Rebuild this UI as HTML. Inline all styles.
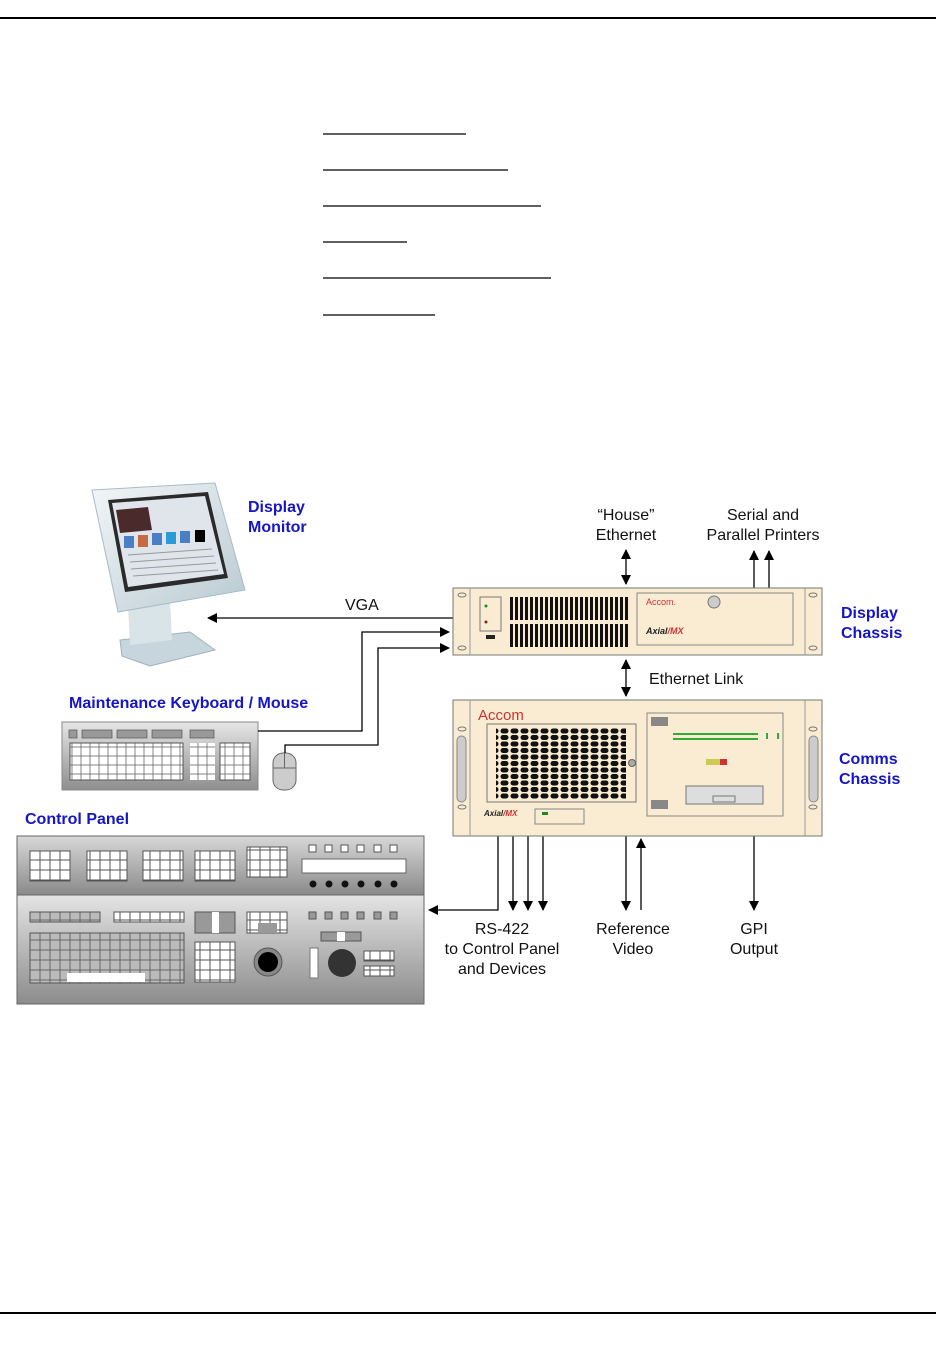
<!DOCTYPE html>
<html><head><meta charset="utf-8"><style>
html,body{margin:0;padding:0;background:#fff}
svg{display:block}
text{font-family:"Liberation Sans",Arial,sans-serif}
.b{fill:#1515c8;font-weight:bold;font-size:16px}
.l{fill:#111;font-size:16px}
</style></head><body>
<svg width="936" height="1350" viewBox="0 0 936 1350" xmlns="http://www.w3.org/2000/svg">
<defs>
<marker id="a" markerWidth="10" markerHeight="10" refX="9" refY="5" orient="auto" markerUnits="userSpaceOnUse"><path d="M0,0 L10,5 L0,10 z" fill="#000"/></marker>
<marker id="s" markerWidth="10" markerHeight="10" refX="1" refY="5" orient="auto" markerUnits="userSpaceOnUse"><path d="M10,0 L0,5 L10,10 z" fill="#000"/></marker>
<linearGradient id="cp1" x1="0" y1="0" x2="0" y2="1"><stop offset="0" stop-color="#d8d8d8"/><stop offset="1" stop-color="#8a8a8a"/></linearGradient>
<linearGradient id="cp2" x1="0" y1="0" x2="0" y2="1"><stop offset="0" stop-color="#e4e4e4"/><stop offset="1" stop-color="#8c8c8c"/></linearGradient>
<linearGradient id="kb" x1="0" y1="0" x2="0" y2="1"><stop offset="0" stop-color="#e6e6e6"/><stop offset="1" stop-color="#8e8e8e"/></linearGradient>
<linearGradient id="mon" x1="0" y1="0" x2="1" y2="1"><stop offset="0" stop-color="#f2f6f8"/><stop offset="1" stop-color="#b9cad2"/></linearGradient>
<pattern id="grid" width="10" height="10" patternUnits="userSpaceOnUse"><rect width="10" height="10" fill="#fff" stroke="#555" stroke-width="1"/></pattern>
<pattern id="key" width="9" height="9" patternUnits="userSpaceOnUse"><rect width="9" height="9" fill="#fff" stroke="#666" stroke-width="0.8"/></pattern>
<pattern id="gkey" width="10" height="10" patternUnits="userSpaceOnUse"><rect width="10" height="10" fill="#bbb" stroke="#555" stroke-width="0.8"/></pattern>
<pattern id="vent" width="5" height="10" patternUnits="userSpaceOnUse"><rect x="0" width="3" height="10" fill="#111"/></pattern>
<pattern id="fan" width="10" height="6.5" patternUnits="userSpaceOnUse"><rect x="0.5" y="0.5" width="8" height="5" rx="2.5" fill="#111"/></pattern>
</defs>
<line x1="0" y1="18" x2="936" y2="18" stroke="#000" stroke-width="2"/>
<line x1="0" y1="1313" x2="936" y2="1313" stroke="#000" stroke-width="2"/>
<g stroke="#000" stroke-width="1.2">
<line x1="323" y1="134" x2="466" y2="134"/><line x1="323" y1="170" x2="508" y2="170"/>
<line x1="323" y1="206" x2="541" y2="206"/><line x1="323" y1="242" x2="407" y2="242"/>
<line x1="323" y1="278" x2="551" y2="278"/><line x1="323" y1="315" x2="435" y2="315"/>
</g>

<!-- Monitor -->
<polygon points="120,640 190,632 215,650 150,666 122,656" fill="#c7d5dc" stroke="#9fb2bb"/>
<polygon points="128,605 170,600 172,640 130,645" fill="#d9e4e9"/>
<polygon points="92,490 215,483 245,590 118,612" fill="url(#mon)" stroke="#a8bcc6"/>
<polygon points="108,500 208,492 228,578 125,592" fill="#2a2a2a"/>
<polygon points="112,503 205,496 224,574 128,587" fill="#dfe5ea"/>
<polygon points="116,510 148,507 152,530 120,533" fill="#4a2a2a"/>
<g fill="#4a7fc8"><rect x="124" y="536" width="10" height="12"/><rect x="138" y="535" width="10" height="12" fill="#c86a40"/><rect x="152" y="533" width="10" height="12"/><rect x="166" y="532" width="10" height="12" fill="#2a9ad8"/><rect x="180" y="531" width="10" height="12"/><rect x="195" y="530" width="10" height="12" fill="#000"/></g>
<g stroke="#999" stroke-width="1"><line x1="128" y1="555" x2="212" y2="549"/><line x1="130" y1="562" x2="214" y2="556"/><line x1="131" y1="569" x2="216" y2="563"/><line x1="133" y1="576" x2="218" y2="570"/></g>

<text class="b" x="248" y="512">Display</text><text class="b" x="248" y="532">Monitor</text>

<!-- Keyboard -->
<text class="b" x="69" y="708">Maintenance Keyboard / Mouse</text>
<rect x="62" y="722" width="196" height="68" fill="url(#kb)" stroke="#888"/>
<g fill="#999" stroke="#555" stroke-width="0.7"><rect x="69" y="730" width="8" height="8"/><rect x="82" y="730" width="30" height="8"/><rect x="117" y="730" width="30" height="8"/><rect x="152" y="730" width="30" height="8"/><rect x="190" y="730" width="24" height="8"/></g>
<rect x="70" y="743" width="113" height="37" fill="url(#key)" stroke="#555"/>
<rect x="190" y="743" width="25" height="37" fill="url(#key)"/>
<rect x="220" y="743" width="30" height="37" fill="url(#key)" stroke="#555"/>
<!-- Mouse -->
<rect x="273" y="753" width="23" height="37" rx="10" fill="#ccc" stroke="#666"/>
<line x1="284.5" y1="753" x2="284.5" y2="768" stroke="#666"/><line x1="273" y1="768" x2="296" y2="768" stroke="#666"/>

<!-- connectors -->
<g fill="none" stroke="#000" stroke-width="1.3">
<line x1="453" y1="618" x2="208" y2="618" marker-end="url(#a)"/>
<polyline points="258,731 362,731 362,632 449,632" marker-end="url(#a)"/>
<polyline points="285,753 285,745 378,745 378,648 449,648" marker-end="url(#a)"/>
<line x1="626" y1="550" x2="626" y2="584" marker-start="url(#s)" marker-end="url(#a)"/>
<line x1="754" y1="588" x2="754" y2="551" marker-end="url(#a)"/>
<line x1="769" y1="588" x2="769" y2="551" marker-end="url(#a)"/>
<line x1="626" y1="660" x2="626" y2="696" marker-start="url(#s)" marker-end="url(#a)"/>
<polyline points="498,836 498,910 429,910" marker-end="url(#a)"/>
<line x1="513" y1="836" x2="513" y2="910" marker-end="url(#a)"/>
<line x1="528" y1="836" x2="528" y2="910" marker-end="url(#a)"/>
<line x1="543" y1="836" x2="543" y2="910" marker-end="url(#a)"/>
<line x1="626" y1="836" x2="626" y2="910" marker-end="url(#a)"/>
<line x1="641" y1="910" x2="641" y2="839" marker-end="url(#a)"/>
<line x1="754" y1="836" x2="754" y2="910" marker-end="url(#a)"/>
</g>
<text class="l" x="345" y="610">VGA</text>
<text class="l" x="626" y="520" text-anchor="middle">“House”</text>
<text class="l" x="626" y="540" text-anchor="middle">Ethernet</text>
<text class="l" x="763" y="520" text-anchor="middle">Serial and</text>
<text class="l" x="763" y="540" text-anchor="middle">Parallel Printers</text>
<text class="l" x="649" y="684">Ethernet Link</text>
<text class="l" x="502" y="934" text-anchor="middle">RS-422</text>
<text class="l" x="502" y="954" text-anchor="middle">to Control Panel</text>
<text class="l" x="502" y="974" text-anchor="middle">and Devices</text>
<text class="l" x="633" y="934" text-anchor="middle">Reference</text>
<text class="l" x="633" y="954" text-anchor="middle">Video</text>
<text class="l" x="754" y="934" text-anchor="middle">GPI</text>
<text class="l" x="754" y="954" text-anchor="middle">Output</text>

<!-- Display chassis -->
<rect x="453" y="588" width="369" height="67" fill="#f9ecd2" stroke="#777"/>
<line x1="470" y1="588" x2="470" y2="655" stroke="#999"/><line x1="805" y1="588" x2="805" y2="655" stroke="#999"/>
<g fill="none" stroke="#777"><ellipse cx="462" cy="595" rx="4" ry="2"/><ellipse cx="462" cy="648" rx="4" ry="2"/><ellipse cx="813" cy="595" rx="4" ry="2"/><ellipse cx="813" cy="648" rx="4" ry="2"/></g>
<rect x="480" y="597" width="21" height="34" fill="#f9ecd2" stroke="#777"/>
<circle cx="486" cy="606" r="1.5" fill="#282"/><circle cx="486" cy="622" r="1.5" fill="#822"/>
<rect x="486" y="635" width="9" height="4" fill="#222"/>
<rect x="510" y="597" width="118" height="23" fill="url(#vent)"/>
<rect x="510" y="624" width="118" height="23" fill="url(#vent)"/>
<rect x="637" y="593" width="156" height="52" fill="#f9ecd2" stroke="#888"/>
<text x="646" y="605" font-family="Liberation Serif,serif" font-size="9" fill="#c33">Accom.</text>
<circle cx="714" cy="602" r="6" fill="#ccc" stroke="#777"/>
<text x="646" y="634" font-size="9" font-weight="bold" font-style="italic" fill="#222">Axial<tspan fill="#c33">/MX</tspan></text>
<text class="b" x="841" y="618">Display</text><text class="b" x="841" y="638">Chassis</text>

<!-- Comms chassis -->
<rect x="453" y="700" width="369" height="136" fill="#f9ecd2" stroke="#777"/>
<line x1="470" y1="700" x2="470" y2="836" stroke="#999"/><line x1="805" y1="700" x2="805" y2="836" stroke="#999"/>
<rect x="457" y="736" width="9" height="66" rx="4.5" fill="#ccc" stroke="#888"/>
<rect x="809" y="736" width="9" height="66" rx="4.5" fill="#ccc" stroke="#888"/>
<g fill="none" stroke="#777"><ellipse cx="462" cy="729" rx="4" ry="2"/><ellipse cx="462" cy="807" rx="4" ry="2"/><ellipse cx="813" cy="729" rx="4" ry="2"/><ellipse cx="813" cy="807" rx="4" ry="2"/></g>
<text x="478" y="720" font-family="Liberation Serif,serif" font-size="15" fill="#c33">Accom</text>
<rect x="487" y="724" width="149" height="78" fill="#f9ecd2" stroke="#777"/>
<rect x="496" y="728" width="130" height="72" fill="url(#fan)"/>
<circle cx="632" cy="763" r="3.5" fill="#aaa" stroke="#666"/>
<text x="484" y="816" font-size="8" font-weight="bold" font-style="italic" fill="#222">Axial<tspan fill="#c33">/MX</tspan></text>
<rect x="535" y="809" width="49" height="15" fill="#f9ecd2" stroke="#888"/>
<rect x="542" y="812" width="6" height="3" fill="#282"/>
<rect x="647" y="713" width="136" height="103" fill="#f9ecd2" stroke="#888"/>
<rect x="651" y="717" width="17" height="9" fill="#888"/><rect x="651" y="800" width="17" height="9" fill="#888"/>
<rect x="673" y="733" width="85" height="2" fill="#3a3"/><rect x="673" y="738" width="85" height="2" fill="#3a3"/>
<rect x="766" y="733" width="2" height="6" fill="#3a3"/><rect x="777" y="733" width="2" height="6" fill="#3a3"/>
<rect x="706" y="759" width="14" height="6" fill="#cc5"/><rect x="720" y="759" width="7" height="6" fill="#c33"/>
<rect x="686" y="786" width="77" height="18" fill="#ddd" stroke="#777"/>
<rect x="713" y="796" width="22" height="6" fill="#ddd" stroke="#777"/>
<text class="b" x="839" y="764">Comms</text><text class="b" x="839" y="784">Chassis</text>

<!-- Control Panel -->
<text class="b" x="25" y="824">Control Panel</text>
<rect x="17" y="836" width="407" height="59" fill="url(#cp1)" stroke="#666"/>
<rect x="17" y="895" width="407" height="109" fill="url(#cp2)" stroke="#666"/>
<rect x="30" y="851" width="40" height="30" fill="url(#grid)" stroke="#555"/>
<rect x="87" y="851" width="40" height="30" fill="url(#grid)" stroke="#555"/>
<rect x="143" y="851" width="40" height="30" fill="url(#grid)" stroke="#555"/>
<rect x="195" y="851" width="40" height="30" fill="url(#grid)" stroke="#555"/>
<rect x="247" y="847" width="40" height="30" fill="url(#grid)" stroke="#555"/>
<g fill="#fff" stroke="#555"><rect x="309" y="845" width="7" height="7"/><rect x="325" y="845" width="7" height="7"/><rect x="341" y="845" width="7" height="7"/><rect x="357" y="845" width="7" height="7"/><rect x="374" y="845" width="7" height="7"/><rect x="390" y="845" width="7" height="7"/></g>
<rect x="302" y="859" width="104" height="14" fill="#fff" stroke="#666"/>
<g fill="#111"><circle cx="313" cy="884" r="3.5"/><circle cx="329" cy="884" r="3.5"/><circle cx="345" cy="884" r="3.5"/><circle cx="361" cy="884" r="3.5"/><circle cx="378" cy="884" r="3.5"/><circle cx="394" cy="884" r="3.5"/></g>
<rect x="30" y="912" width="70" height="10" fill="url(#gkey)" stroke="#555"/>
<rect x="114" y="912" width="70" height="10" fill="url(#grid)" stroke="#555"/>
<rect x="30" y="933" width="154" height="50" fill="url(#gkey)" stroke="#555"/>
<rect x="67" y="973" width="78" height="9" fill="#fff"/>
<rect x="195" y="912" width="40" height="21" fill="#999" stroke="#555"/>
<rect x="212" y="912" width="7" height="21" fill="#fff"/>
<rect x="247" y="912" width="40" height="21" fill="url(#grid)" stroke="#555"/>
<rect x="258" y="923" width="19" height="10" fill="#999"/>
<rect x="195" y="942" width="40" height="40" fill="url(#grid)" stroke="#555"/>
<circle cx="268" cy="962" r="14" fill="#888" stroke="#555"/><circle cx="268" cy="962" r="10" fill="#000"/>
<g fill="#999" stroke="#555"><rect x="309" y="912" width="7" height="7"/><rect x="325" y="912" width="7" height="7"/><rect x="341" y="912" width="7" height="7"/><rect x="357" y="912" width="7" height="7"/><rect x="374" y="912" width="7" height="7"/><rect x="390" y="912" width="7" height="7"/></g>
<rect x="321" y="932" width="40" height="9" fill="#999" stroke="#555"/><rect x="337" y="932" width="8" height="9" fill="#fff"/>
<rect x="310" y="948" width="8" height="30" fill="#fff" stroke="#777"/>
<circle cx="342" cy="963" r="14" fill="#333"/>
<rect x="364" y="951" width="30" height="10" fill="url(#grid)" stroke="#555"/>
<rect x="364" y="966" width="30" height="10" fill="url(#grid)" stroke="#555"/>
</svg>
</body></html>
